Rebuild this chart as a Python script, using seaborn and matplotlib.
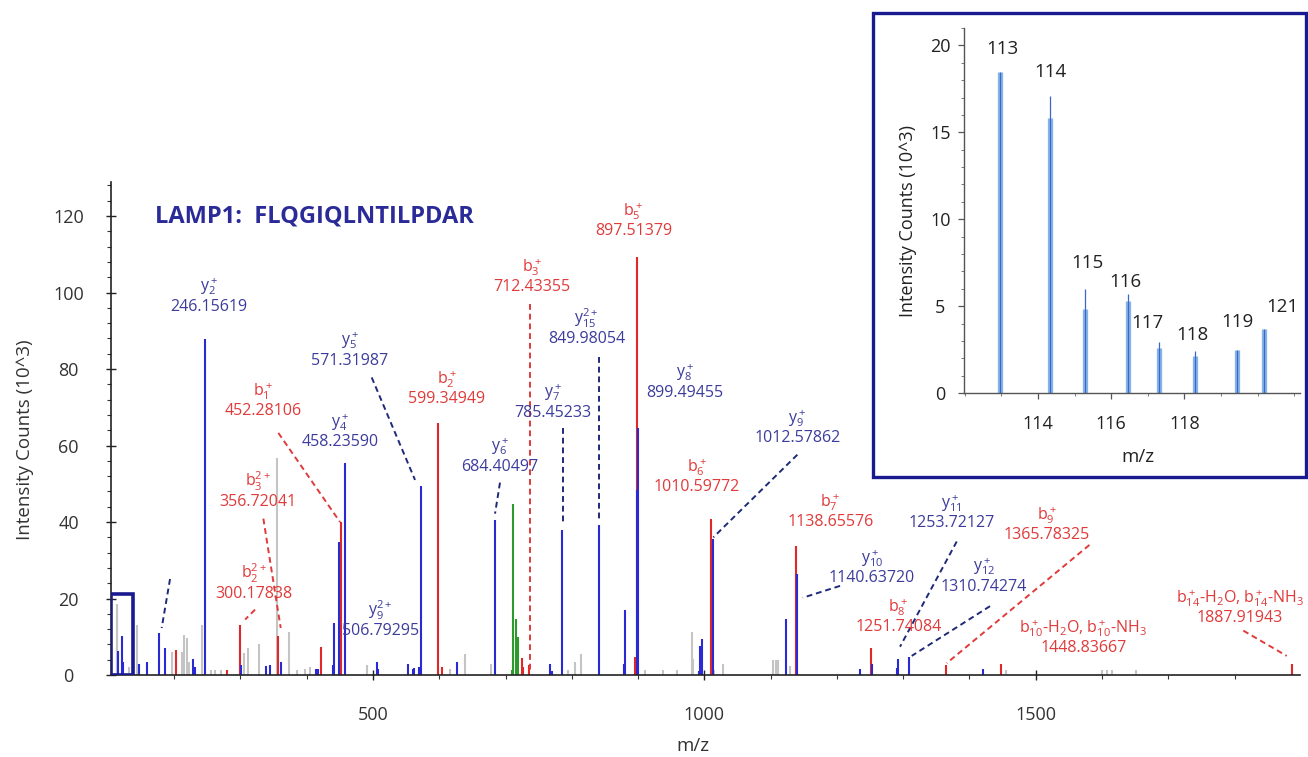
import matplotlib.pyplot as plt
from matplotlib.patches import Rectangle
from matplotlib.ticker import MultipleLocator
import pandas as pd
import seaborn as sns


# main MS/MS spectrum, m/z and intensity (10^3 counts)
grey_mz = [113.1, 114.1, 132.3, 144.4, 196.2, 212, 215, 219, 222, 241.5, 255, 262, 270,
           305.3, 311.8, 328.4, 354.7, 373.7, 385, 398, 405, 491.4, 616.2, 638.4, 678,
           794.7, 804.8, 813.4, 910.4, 938, 959.2, 981.8, 983.3, 1015, 1028.6, 1104,
           1108, 1111.6, 1129.2, 1455, 1600, 1607, 1615, 1652]
grey_int = [18.5, 17.1, 2.2, 13.2, 6.1, 6.0, 10.4, 9.6, 3.5, 13.2, 1.3, 1.3, 1.3,
            5.7, 7.0, 8.0, 56.7, 11.3, 1.3, 1.7, 2.2, 2.6, 1.7, 5.5, 3.0,
            1.3, 3.5, 5.5, 1.3, 1.3, 1.3, 11.3, 4.3, 1.3, 2.8, 3.9,
            3.9, 3.9, 2.3, 1.3, 1.3, 1.3, 1.3, 1.3]

blue_mz = [115.7, 120.7, 122.2, 147.4, 158.5, 176.6, 186.1, 228.8, 231.4, 246.2, 301.3,
           338.1, 344.6, 361.6, 414, 417.5, 439.2, 441.2, 449.2, 457.7, 505.5, 508,
           553.3, 559.9, 561.9, 569.9, 572.0, 626.3, 684.4, 767.1, 769.6, 785.7, 841.5,
           878.8, 880.3, 898.5, 899.5, 992.4, 993.4, 996, 1012.6, 1122.7, 1140.3,
           1234.9, 1252.5, 1291.2, 1292.7, 1309.3, 1420.9]
blue_int = [6.2, 10.1, 3.3, 2.8, 3.5, 11.0, 7.0, 4.3, 2.2, 87.9, 2.6,
            2.3, 2.6, 3.5, 1.7, 1.7, 2.6, 13.5, 34.7, 55.4, 3.5, 1.7,
            2.8, 1.7, 1.8, 2.2, 49.5, 3.5, 40.4, 2.8, 1.0, 38.0, 39.1,
            3.0, 17.0, 48.4, 64.6, 1.0, 7.7, 9.4, 35.6, 14.6, 26.4,
            1.6, 2.8, 1.9, 4.2, 4.8, 1.7]

red_mz = [202.7, 280.2, 299.3, 357.1, 421.5, 452.3, 598.6, 603.7, 724.4, 726.8, 736,
          895.4, 897.9, 1010.6, 1138.3, 1251, 1364.6, 1447.1, 1886.3]
red_int = [6.5, 1.3, 13.2, 10.1, 7.4, 40.0, 65.8, 2.2, 4.5, 2.2, 2.6,
           4.8, 109.3, 40.9, 33.6, 7.0, 2.6, 3.0, 3.0]

green_mz = [710.2, 711.7, 715.3, 718.3]
green_int = [1.3, 44.6, 14.6, 10.0]

# annotated fragment ions
ion_series = ['y', 'b', 'y', 'y', 'b', 'b', 'y', 'b', 'b', 'y', 'y', 'y', 'b', 'y',
              'y', 'b', 'b', 'y', 'y', 'b', 'y', 'b', 'b', 'b']
ion_names = [r'y$_2^+$', r'b$_1^+$', r'y$_4^+$', r'y$_5^+$', r'b$_3^{2+}$', r'b$_2^{2+}$',
             r'y$_9^{2+}$', r'b$_2^+$', r'b$_3^+$', r'y$_6^+$', r'y$_7^+$', r'y$_{15}^{2+}$',
             r'b$_5^+$', r'y$_8^+$', r'y$_9^+$', r'b$_6^+$', r'b$_7^+$', r'y$_{10}^+$',
             r'y$_{11}^+$', r'b$_8^+$', r'y$_{12}^+$', r'b$_9^+$',
             r'b$_{10}^+$-H$_2$O, b$_{10}^+$-NH$_3$', r'b$_{14}^+$-H$_2$O, b$_{14}^+$-NH$_3$']
ion_values = ['246.15619', '452.28106', '458.23590', '571.31987', '356.72041', '300.17838',
              '506.79295', '599.34949', '712.43355', '684.40497', '785.45233', '849.98054',
              '897.51379', '899.49455', '1012.57862', '1010.59772', '1138.65576', '1140.63720',
              '1253.72127', '1251.74084', '1310.74274', '1365.78325', '1448.83667', '1887.91943']
ion_label_pos = [(252.5, 96.3), (334.5, 69.0), (450.2, 60.8), (465.3, 82.2), (326, 45.3),
                 (320, 21.2), (511, 11.6), (611, 72.1), (739.4, 101.5), (691.6, 54.5),
                 (772, 68.6), (822.4, 87.9), (892.8, 116.0), (970.8, 73.8), (1140.5, 62.0),
                 (988.4, 49.2), (1190, 40.0), (1252.5, 25.3), (1373, 39.7), (1292.7, 12.6),
                 (1422, 23.1), (1516.6, 36.6), (1571.8, 7.0), (1808.3, 14.8)]

# dashed leader lines from labels to peaks
leaders = [((193.7, 25.1), (181.1, 12.3), 'y'),
           ((498, 77.8), (563.4, 51.0), 'y'),
           ((691.6, 50.3), (684.1, 42.2), 'y'),
           ((787.2, 64.6), (787.2, 39.6), 'y'),
           ((841, 83.1), (841, 40.9), 'y'),
           ((1140.3, 57.6), (1013.5, 36.0), 'y'),
           ((1204.7, 23.3), (1148.4, 20.2), 'y'),
           ((1380.8, 34.9), (1295.2, 7.4), 'y'),
           ((1431, 18.0), (1312.9, 5.0), 'y'),
           ((357.1, 63.3), (450.2, 40.0), 'b'),
           ((334.5, 40.9), (360.7, 12.3), 'b'),
           ((322, 17.1), (307, 14.5), 'b'),
           ((737, 97.1), (737, 0.9), 'b'),
           ((1581, 34.0), (1365.7, 3.1), 'b'),
           ((1813.3, 11.6), (1878.7, 5.0), 'b')]

# iTRAQ reporter region (inset)
reporter_names = ['113', '114', '115', '116', '117', '118', '119', '121']
reporter_mz = [112.96, 114.33, 115.28, 116.46, 117.31, 118.29, 119.44, 120.17]
reporter_int = [18.47, 15.84, 4.83, 5.3, 2.6, 2.15, 2.47, 3.66]
reporter_top = [18.47, 17.1, 6.0, 5.7, 2.95, 2.43, 2.47, 3.66]
reporter_label_pos = [(113.04, 19.77), (114.33, 18.45), (115.34, 7.47), (116.38, 6.38),
                      (117.0, 4.02), (118.21, 3.33), (119.44, 4.08), (120.67, 4.94)]

sns.set_theme(style='ticks')
plt.rcParams['font.family'] = ['Open Sans', 'DejaVu Sans']
plt.rcParams['mathtext.fontset'] = 'custom'
plt.rcParams['mathtext.rm'] = 'Open Sans'
plt.rcParams['mathtext.it'] = 'Open Sans'
plt.rcParams['mathtext.bf'] = 'Open Sans:bold'

peak_colors = {'other': '#c4c4c4', 'b': '#e02828', 'y': '#2a2ad4', 'precursor': '#2e9a2e'}
text_colors = {'b': '#e03a3a', 'y': '#3c3c9c'}
leader_colors = {'b': '#e03a3a', 'y': '#1e2a78'}

peaks = pd.concat([
    pd.DataFrame({'mz': grey_mz, 'intensity': grey_int, 'kind': 'other'}),
    pd.DataFrame({'mz': red_mz, 'intensity': red_int, 'kind': 'b'}),
    pd.DataFrame({'mz': blue_mz, 'intensity': blue_int, 'kind': 'y'}),
    pd.DataFrame({'mz': green_mz, 'intensity': green_int, 'kind': 'precursor'}),
], ignore_index=True)

fig = plt.figure(figsize=(13.08, 7.57), dpi=100)
ax = fig.add_axes([0.0849, 0.1083, 0.909, 0.6513])

for kind in ['other', 'b', 'y', 'precursor']:
    sub = peaks[peaks['kind'] == kind]
    ax.vlines(sub['mz'], 0, sub['intensity'], color=peak_colors[kind], lw=1.5)

for (x0, y0), (x1, y1), s in leaders:
    ax.plot([x0, x1], [y0, y1], ls=(0, (3, 2)), color=leader_colors[s], lw=1.4)

for s, name, val, (x, y) in zip(ion_series, ion_names, ion_values, ion_label_pos):
    ax.text(x, y, val, color=text_colors[s], fontsize=11.5, ha='center', va='center')
    ax.annotate(name, xy=(x, y), xytext=(0, 14.5), textcoords='offset points',
                color=text_colors[s], fontsize=11.5, ha='center', va='center')

# box marking the reporter-ion region
ax.add_patch(Rectangle((105, 0), 33.5, 21.3, fill=False, ec='#1a1a90', lw=2.6, zorder=5))

ax.text(171, 120, 'LAMP1:  FLQGIQLNTILPDAR', color='#2a2a98', fontsize=17,
        fontweight='bold', ha='left', va='center')

ax.set_xlim(104.7, 1898.8)
ax.set_ylim(0, 128.9)
ax.xaxis.set_major_locator(MultipleLocator(500))
ax.xaxis.set_minor_locator(MultipleLocator(100))
ax.yaxis.set_major_locator(MultipleLocator(20))
ax.yaxis.set_minor_locator(MultipleLocator(4))
ax.tick_params(which='major', direction='inout', length=7, width=1, colors='#222222',
               labelsize=13, labelcolor='#333333')
ax.tick_params(which='minor', direction='out', length=3, width=0.8, colors='#333333')
ax.tick_params(axis='y', which='major', pad=27)
ax.tick_params(axis='x', which='major', pad=19)
for lab in ax.get_yticklabels():
    lab.set_horizontalalignment('center')
ax.set_xlabel('m/z', fontsize=13.5, color='#333333')
ax.set_ylabel('Intensity Counts (10^3)', fontsize=13.5, color='#333333')
ax.xaxis.set_label_coords(0.489, -0.126)
ax.yaxis.set_label_coords(-0.0644, 0.477)
sns.despine(ax=ax)
for sp in ['left', 'bottom']:
    ax.spines[sp].set_color('#222222')
    ax.spines[sp].set_linewidth(1.2)

# inset with the reporter ions
ins = fig.add_axes([0.737, 0.4808, 0.2569, 0.4822])
ins.vlines(reporter_mz, 0, reporter_int, color='#86b4ea', lw=3.8)
ins.vlines(reporter_mz, 0, reporter_top, color='#3a68c4', lw=0.9)
for name, (x, y) in zip(reporter_names, reporter_label_pos):
    ins.text(x, y, name, fontsize=13.5, ha='center', va='center', color='#222222')
ins.set_xlim(111.98, 121.16)
ins.set_ylim(0, 21)
ins.xaxis.set_major_locator(MultipleLocator(2))
ins.xaxis.set_minor_locator(MultipleLocator(1))
ins.yaxis.set_major_locator(MultipleLocator(5))
ins.yaxis.set_minor_locator(MultipleLocator(1))
ins.set_xticks([114, 116, 118])
ins.tick_params(which='major', direction='out', length=4, width=0.9, colors='#555555',
                labelsize=13, labelcolor='#222222')
ins.tick_params(which='minor', direction='out', length=2, width=0.7, colors='#777777')
ins.tick_params(axis='y', which='major', pad=13)
ins.tick_params(axis='x', which='major', pad=12)
for lab in ins.get_yticklabels():
    lab.set_horizontalalignment('center')
ins.set_xlabel('m/z', fontsize=13.5, color='#222222')
ins.set_ylabel('Intensity Counts (10^3)', fontsize=13, color='#222222')
ins.xaxis.set_label_coords(0.518, -0.15)
ins.yaxis.set_label_coords(-0.141, 0.47)
sns.despine(ax=ins)
for sp in ['left', 'bottom']:
    ins.spines[sp].set_color('#555555')
    ins.spines[sp].set_linewidth(1)

fig.add_artist(Rectangle((0.6674, 0.3699), 0.3311, 0.6129, transform=fig.transFigure,
                         fill=False, ec='#1a1a90', lw=2.4, zorder=10))

fig.savefig('out.png', dpi=100)
